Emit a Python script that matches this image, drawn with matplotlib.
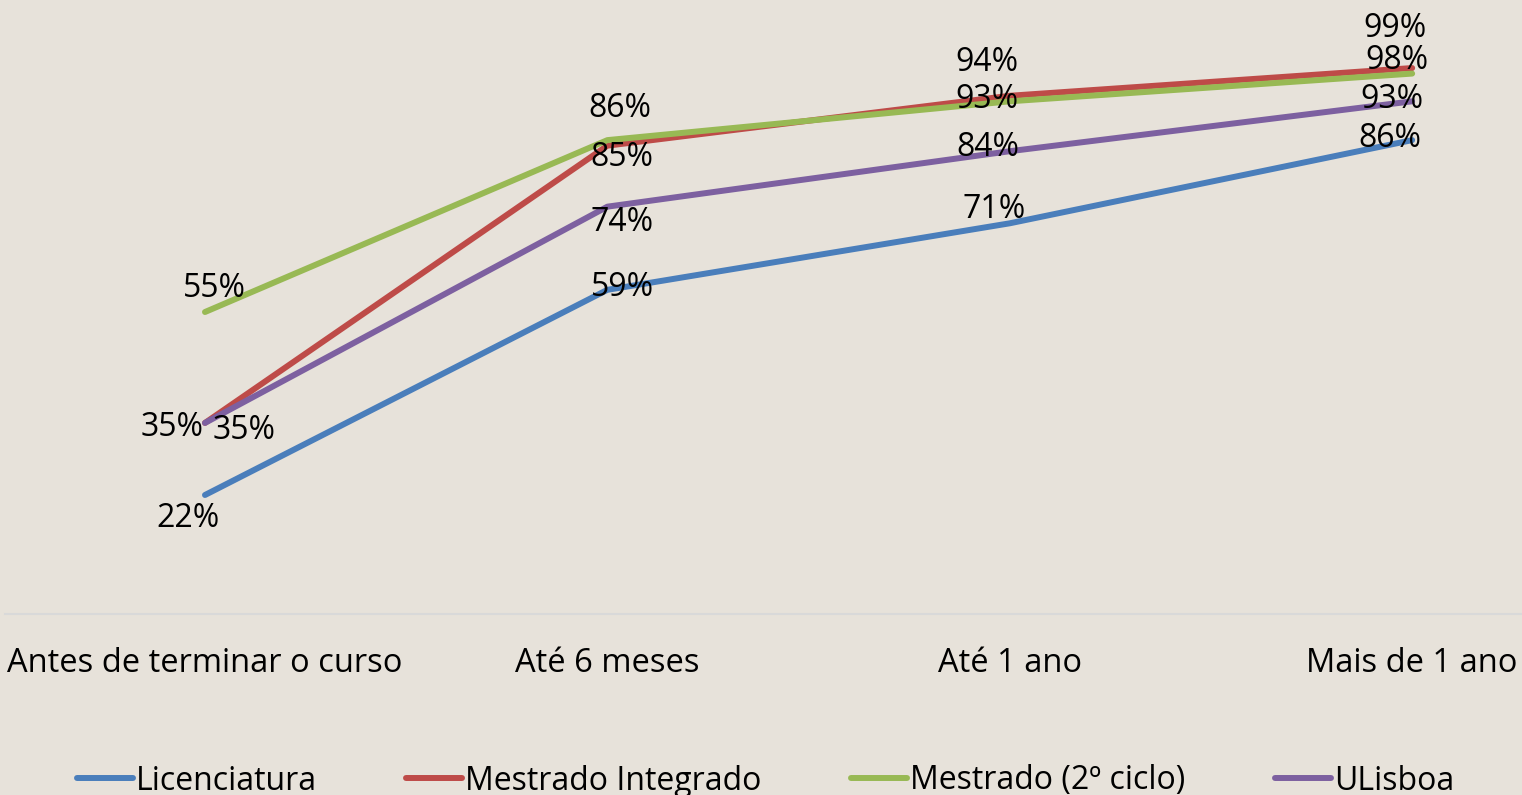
import matplotlib
matplotlib.use("Agg")
import matplotlib.pyplot as plt
import numpy as np

# categories and series (share of graduates employed)
categorias = ["Antes de terminar o curso", "Até 6 meses", "Até 1 ano", "Mais de 1 ano"]
licenciatura = [0.22, 0.59, 0.71, 0.86]
mestrado_integrado = [0.35, 0.85, 0.94, 0.99]
mestrado_2ciclo = [0.55, 0.86, 0.93, 0.98]
ulisboa = [0.35, 0.74, 0.84, 0.93]
nomes = ["Licenciatura", "Mestrado Integrado", "Mestrado (2º ciclo)", "ULisboa"]

cores = ["#4A7EBB", "#BE4B48", "#98B954", "#7D60A0"]
# label offsets in pixels (dx, dy) for each point
offsets = [
    [(-17, -20), (15, 5), (-16, 17), (-22, 5)],
    [(-33, -2), (15, -9), (-23, 36), (-17, 43)],
    [(9, 27), (13, 35), (-23, 5), (-15, 16)],
    [(39, -5), (15, -13), (-22, 7), (-20, 5)],
]

bg = "#E7E2DA"
cat_font = ["Open Sans", "DejaVu Sans"]
lab_font = ["Open Sans", "DejaVu Sans"]

fig = plt.figure(figsize=(15.22, 7.95), dpi=100, facecolor=bg)
ax = fig.add_axes([5 / 1522, 1 - 614 / 795, 1 - 5 / 1522, 614 / 795])
ax.set_facecolor(bg)

x = np.arange(len(categorias))
series = [licenciatura, mestrado_integrado, mestrado_2ciclo, ulisboa]
for i, vals in enumerate(series):
    ax.plot(x, vals, color=cores[i], lw=4.3, solid_capstyle="round",
            solid_joinstyle="round", label=nomes[i], zorder=2 + i)

for i, vals in enumerate(series):
    for j, v in enumerate(vals):
        dx, dy = offsets[i][j]
        ax.annotate("%d%%" % round(v * 100), (x[j], v), xytext=(dx, dy - 3),
                    textcoords="offset pixels", ha="center", va="center",
                    fontsize=23, family=lab_font, color="black", zorder=10)

ax.set_xlim(-0.497, 3.273)
ax.set_ylim(0.0054, 1.1127)
ax.set_yticks([])
ax.set_xticks(x)
ax.set_xticklabels(categorias, fontsize=23.5, family=cat_font)
ax.tick_params(axis="x", length=0, pad=24)
for s in ["top", "left", "right"]:
    ax.spines[s].set_visible(False)
ax.spines["bottom"].set_color("#D9D9D9")
ax.spines["bottom"].set_linewidth(1.5)

fig.legend(loc="center", bbox_to_anchor=(0.503, 1 - 781 / 795), ncol=4,
           frameon=False, prop={"family": cat_font, "size": 23},
           handlelength=1.75, handletextpad=0.1, columnspacing=2.8,
           borderpad=0, borderaxespad=0)

fig.savefig("out.png", dpi=100, facecolor=bg)
